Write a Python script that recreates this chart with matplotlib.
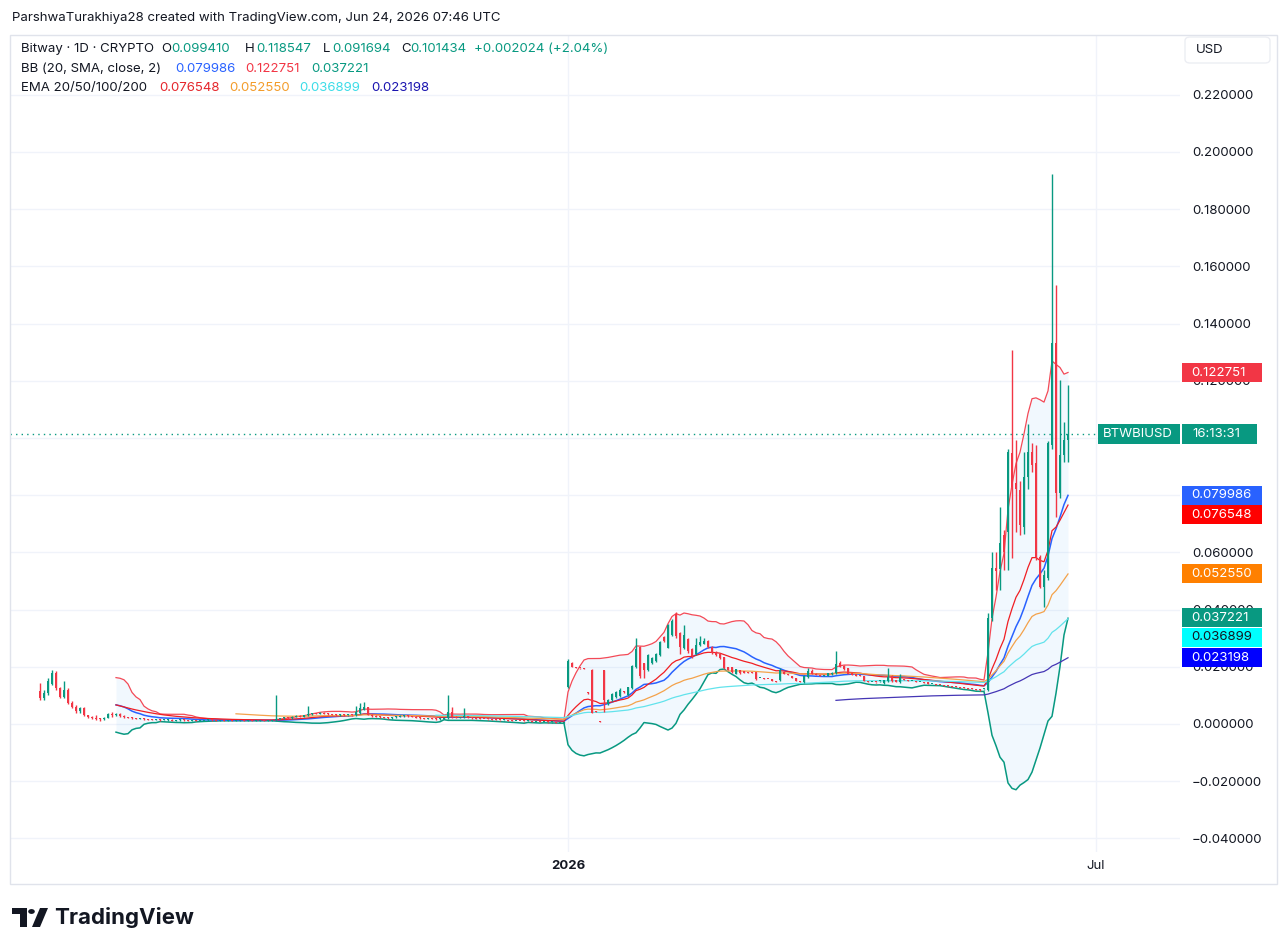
import numpy as np
import pandas as pd
import matplotlib
matplotlib.use("Agg")
import matplotlib.pyplot as plt
from matplotlib.patches import Rectangle, Polygon, Circle, FancyBboxPatch
from matplotlib.transforms import blended_transform_factory

plt.rcParams["font.family"] = ["Inter", "DejaVu Sans"]

W, H = 1288, 952
FS = 9.5

# Bitway (BTWBIUSD) daily candles, one entry per bar (bar index = x position)
opens = [
    # first pump and fade
    .0115, .0090, .0110, .0140, .0180, .0125, .0095, .0120, .0075, .0060, .0045,
    .0055, .0030, .0025, .0020, .0018, .0016, .0022, .0035, .0030, .0036,
    .0028, .0024, .0022, .0020, .0018, .0019, .0016, .0015, .0014, .0015,
    # flat base
    .0013, .0013, .0014, .0012, .0013, .0014, .0013, .0012, .0013, .0012,
    .0012, .0013, .0014, .0013, .0012, .0013, .0012, .0013, .0012, .0012,
    .0013, .0012, .0013, .0012, .0012, .0013, .0012, .0012,
    .0013,
    .0018, .0020, .0022, .0021, .0025, .0028, .0026, .0030, .0034, .0038, .0036,
    .0040, .0036, .0034, .0033, .0030, .0032, .0030, .0031,
    .0030, .0040, .0050, .0058, .0032,
    .0028, .0026, .0024, .0022, .0020, .0023, .0025, .0028, .0030, .0027,
    .0025, .0022, .0020, .0018, .0020, .0019, .0017,
    .0018, .0022, .0042, .0025, .0022, .0024,
    .0028, .0022, .0020, .0019, .0018, .0017, .0016, .0015, .0014, .0013,
    .0013, .0012, .0011, .0011, .0010, .0009, .0009, .0008, .0008, .0007,
    .0007, .0006, .0006, .0005, .0005,
    # 2026
    .0130, .0215, .0198, .0196, .0195, .0110, .0189, .0044, .0008, .0189,
    .0070, .0084, .0095, .0098, .0113, .0101, .0126, .0199, .0269, .0213,
    .0189, .0213, .0220, .0241, .0304, .0266, .0311, .0385, .0318, .0266,
    .0297, .0262, .0245, .0276, .0280, .0290, .0269, .0252, .0245, .0234,
    .0200, .0199, .0175, .0189, .0185, .0182, .0181, .0182, .0161, .0159,
    .0158, .0157, .0150, .0154, .0182, .0175, .0168, .0161, .0150, .0147,
    .0164, .0185, .0175, .0171, .0168, .0168, .0175, .0178, .0213, .0203,
    .0196, .0178, .0175, .0171, .0168, .0148, .0147, .0147, .0149, .0143,
    .0150, .0168, .0154, .0147, .0157, .0154, .0150, .0148, .0147, .0145,
    .0147, .0140, .0139, .0137, .0135, .0133, .0132, .0131, .0129, .0127,
    .0126, .0124, .0122, .0120, .0121,
    # breakout
    .0120, .0371, .0545, .0542, .0661, .0670, .0948, .0843, .0818, .0689,
    .0864, .0951, .0913, .0584, .0479, .0510, .0976, .1332, .0808, .0941,
    .09941,
]
highs = [
    .0145, .0120, .0160, .0190, .0185, .0130, .0150, .0125, .0080, .0065, .0060,
    .0058, .0033, .0028, .0030, .0022, .0025, .0040, .0042, .0040, .0038,
    .0030, .0026, .0024, .0022, .0021, .0020, .0018, .0017, .0016, .0016,
    .0015, .0016, .0016, .0015, .0016, .0016, .0015, .0015, .0015, .0014,
    .0015, .0016, .0016, .0015, .0015, .0015, .0015, .0015, .0014, .0015,
    .0015, .0015, .0015, .0014, .0015, .0015, .0014, .0015,
    .0100,
    .0022, .0024, .0024, .0027, .0030, .0030, .0032, .0063, .0040, .0040, .0042,
    .0042, .0038, .0036, .0035, .0034, .0034, .0033, .0033,
    .0062, .0073, .0077, .0060, .0034,
    .0030, .0028, .0026, .0024, .0025, .0027, .0030, .0032, .0032, .0029,
    .0027, .0024, .0022, .0022, .0022, .0021, .0020,
    .0024, .0101, .0060, .0027, .0026, .0055,
    .0029, .0023, .0021, .0020, .0019, .0018, .0017, .0016, .0015, .0014,
    .0014, .0013, .0012, .0012, .0011, .0010, .0010, .0009, .0009, .0008,
    .0008, .0007, .0007, .0006, .0006,
    .0228, .0218, .0199, .0197, .0196, .0111, .0191, .0046, .0009, .0190,
    .0088, .0108, .0115, .0125, .0114, .0131, .0206, .0301, .0272, .0215,
    .0245, .0233, .0248, .0290, .0306, .0350, .0368, .0392, .0320, .0346,
    .0300, .0265, .0301, .0308, .0300, .0294, .0272, .0255, .0248, .0236,
    .0201, .0200, .0194, .0190, .0186, .0183, .0182, .0183, .0162, .0160,
    .0159, .0158, .0152, .0196, .0184, .0176, .0169, .0162, .0152, .0170,
    .0196, .0192, .0177, .0172, .0172, .0179, .0182, .0255, .0220, .0205,
    .0197, .0179, .0176, .0172, .0169, .0149, .0148, .0148, .0151, .0155,
    .0196, .0170, .0155, .0175, .0158, .0155, .0151, .0149, .0148, .0146,
    .0148, .0141, .0140, .0138, .0136, .0134, .0133, .0132, .0130, .0128,
    .0127, .0125, .0123, .0121, .0123,
    .0388, .0600, .0601, .0759, .0680, .0960, .1308, .0993, .0850, .0951,
    .1049, .0983, .0976, .0590, .0540, .0990, .1923, .1535, .1203, .1056,
    .118547,
]
lows = [
    .0085, .0085, .0100, .0135, .0120, .0090, .0090, .0070, .0055, .0040, .0040,
    .0028, .0022, .0018, .0015, .0012, .0014, .0020, .0025, .0028, .0026,
    .0022, .0020, .0018, .0017, .0016, .0015, .0014, .0013, .0013, .0012,
    .0011, .0011, .0010, .0010, .0011, .0011, .0010, .0010, .0010, .0010,
    .0010, .0011, .0011, .0010, .0010, .0010, .0010, .0010, .0010, .0010,
    .0010, .0010, .0010, .0010, .0010, .0010, .0010, .0010,
    .0012,
    .0016, .0018, .0019, .0019, .0023, .0024, .0024, .0028, .0032, .0034, .0034,
    .0034, .0032, .0031, .0028, .0028, .0028, .0028, .0028,
    .0028, .0035, .0048, .0030, .0025,
    .0024, .0022, .0020, .0018, .0018, .0021, .0023, .0026, .0025, .0023,
    .0020, .0018, .0016, .0016, .0017, .0015, .0015,
    .0016, .0018, .0020, .0020, .0020, .0021,
    .0020, .0019, .0018, .0017, .0016, .0015, .0014, .0013, .0012, .0012,
    .0011, .0010, .0010, .0009, .0008, .0008, .0007, .0007, .0006, .0006,
    .0005, .0005, .0004, .0004, .0004,
    .0125, .0198, .0195, .0194, .0193, .0106, .0038, .0041, .0006, .0042,
    .0068, .0080, .0092, .0096, .0110, .0099, .0124, .0196, .0160, .0161,
    .0186, .0211, .0218, .0238, .0285, .0264, .0308, .0300, .0245, .0262,
    .0250, .0232, .0242, .0272, .0278, .0265, .0245, .0238, .0228, .0194,
    .0188, .0180, .0174, .0176, .0177, .0179, .0179, .0155, .0160, .0157,
    .0156, .0149, .0146, .0152, .0174, .0170, .0160, .0149, .0146, .0145,
    .0162, .0174, .0170, .0167, .0167, .0167, .0173, .0176, .0198, .0190,
    .0174, .0170, .0167, .0167, .0149, .0146, .0146, .0145, .0148, .0141,
    .0148, .0148, .0146, .0145, .0153, .0149, .0149, .0146, .0146, .0142,
    .0139, .0139, .0137, .0135, .0132, .0131, .0130, .0128, .0126, .0125,
    .0123, .0121, .0119, .0117, .0118,
    .0115, .0360, .0468, .0468, .0538, .0540, .0580, .0671, .0661, .0665,
    .0822, .0880, .0573, .0475, .0409, .0505, .0960, .0724, .0790, .0916,
    .091694,
]
closes = [
    .0090, .0110, .0150, .0180, .0125, .0095, .0120, .0075, .0060, .0045, .0055,
    .0030, .0025, .0020, .0018, .0016, .0022, .0035, .0030, .0036, .0028,
    .0024, .0022, .0020, .0018, .0019, .0016, .0015, .0014, .0015, .0013,
    .0013, .0014, .0012, .0013, .0014, .0013, .0012, .0013, .0012, .0012,
    .0013, .0014, .0013, .0012, .0013, .0012, .0013, .0012, .0012, .0013,
    .0012, .0013, .0012, .0012, .0013, .0012, .0012, .0013,
    .0018,
    .0020, .0022, .0021, .0025, .0028, .0026, .0030, .0034, .0038, .0036, .0040,
    .0036, .0034, .0033, .0030, .0032, .0030, .0031, .0030,
    .0042, .0055, .0058, .0032, .0028,
    .0026, .0024, .0022, .0020, .0023, .0025, .0028, .0030, .0027, .0025,
    .0022, .0020, .0018, .0020, .0019, .0017, .0018,
    .0022, .0042, .0025, .0022, .0024, .0028,
    .0022, .0020, .0019, .0018, .0017, .0016, .0015, .0014, .0013, .0013,
    .0012, .0011, .0011, .0010, .0009, .0009, .0008, .0008, .0007, .0007,
    .0006, .0006, .0005, .0005, .0005,
    .0220, .0200, .0196, .0195, .0194, .0108, .0040, .0042, .0007, .0084,
    .0084, .0105, .0112, .0119, .0112, .0129, .0203, .0262, .0168, .0189,
    .0241, .0231, .0245, .0287, .0290, .0346, .0360, .0308, .0269, .0311,
    .0255, .0238, .0276, .0287, .0290, .0269, .0248, .0241, .0230, .0196,
    .0190, .0182, .0192, .0178, .0178, .0180, .0180, .0157, .0161, .0158,
    .0157, .0150, .0148, .0189, .0175, .0171, .0161, .0150, .0147, .0168,
    .0185, .0175, .0171, .0168, .0171, .0178, .0180, .0210, .0199, .0192,
    .0175, .0171, .0168, .0168, .0150, .0147, .0147, .0146, .0150, .0154,
    .0164, .0150, .0147, .0164, .0154, .0150, .0150, .0147, .0147, .0143,
    .0140, .0140, .0138, .0136, .0133, .0132, .0131, .0129, .0127, .0126,
    .0124, .0122, .0120, .0118, .0122,
    .0371, .0545, .0535, .0633, .0601, .0950, .0829, .0822, .0696, .0864,
    .0951, .0906, .0584, .0479, .0521, .0983, .1332, .0808, .0941, .09941,
    .101434,
]
assert len(opens) == len(highs) == len(lows) == len(closes)

xtick_pos = [132, 264]
xtick_labels = ["2026", "Jul"]
price_ticks = [-0.04, -0.02, 0.0, 0.02, 0.04, 0.06, 0.08, 0.10,
               0.12, 0.14, 0.16, 0.18, 0.20, 0.22]

bb_values = ["0.079986", "0.122751", "0.037221"]
ema_lengths = [20, 50, 100, 200]
ema_values = ["0.076548", "0.052550", "0.036899", "0.023198"]

GREEN = "#089981"
RED = "#F23645"
DARK = "#131722"
BB_COLORS = {"basis": "#2962FF", "upper": "#F23645", "lower": "#089981"}
EMA_LINE = ["#F01E23", "#F4A24A", "#62E3EC", "#4536B5"]
EMA_TEXT = ["#E5262C", "#F39C2B", "#3CDCE8", "#1A14B0"]
EMA_TAG = ["#FF0000", "#FF8000", "#00FFFF", "#0000FF"]


def ema(values, n):
    out = np.full(len(values), np.nan)
    out[n - 1] = np.mean(values[:n])
    a = 2.0 / (n + 1)
    for i in range(n, len(values)):
        out[i] = a * values[i] + (1 - a) * out[i - 1]
    return out


def main():
    close = pd.Series(closes)
    basis = close.rolling(20).mean()
    dev = close.rolling(20).std(ddof=0)
    upper = basis + 2 * dev
    lower = basis - 2 * dev
    c = np.array(closes)
    idx = np.arange(len(c))

    fig = plt.figure(figsize=(W / 100, H / 100), dpi=100)
    fig.patch.set_facecolor("white")
    top_px, bottom_px, left_px, right_px = 36, 852, 10, 1180
    ax = fig.add_axes([left_px / W, 1 - bottom_px / H,
                       (right_px - left_px) / W, (bottom_px - top_px) / H])
    ax.set_xlim(-7.5, 285)
    ax.set_ylim((724 - bottom_px) / 2860, (724 - top_px) / 2860)
    for s in ax.spines.values():
        s.set_visible(False)

    # grid and axis labels (the 0.10 label sits fully under the symbol tag)
    ax.set_yticks(price_ticks)
    ylabels = [f"{v:.6f}".replace("-", "\u2212") for v in price_ticks]
    ylabels[price_ticks.index(0.10)] = ""
    ax.set_yticklabels(ylabels)
    ax.set_xticks(xtick_pos)
    ax.set_xticklabels(xtick_labels)
    ax.get_xticklabels()[0].set_fontweight("bold")
    ax.yaxis.tick_right()
    ax.tick_params(axis="y", length=0, pad=8.5, labelsize=FS, labelcolor=DARK)
    ax.tick_params(axis="x", length=0, pad=6, labelsize=FS, labelcolor=DARK)
    ax.grid(True, color="#f0f3fa", lw=1)
    ax.set_axisbelow(True)

    # bollinger fill and lines
    ax.fill_between(idx, lower, upper, color="#2196F3", alpha=0.06, lw=0)
    ax.plot(idx, upper, color=BB_COLORS["upper"], lw=0.9, alpha=0.9)
    ax.plot(idx, lower, color=BB_COLORS["lower"], lw=1.1)
    ax.plot(idx, basis, color=BB_COLORS["basis"], lw=1.1)

    # EMAs
    for n, col in zip(ema_lengths, EMA_LINE):
        ax.plot(idx, ema(c, n), color=col, lw=0.9)

    # candles
    o = np.array(opens)
    h = np.array(highs)
    l = np.array(lows)
    up = c >= o
    cols = np.where(up, GREEN, RED)
    ax.vlines(idx, l, h, colors=cols, lw=1, zorder=4)
    body_lo = np.minimum(o, c)
    body_h = np.maximum(np.abs(c - o), 0.00035)
    ax.bar(idx, body_h, bottom=body_lo, width=0.72, color=cols, lw=0, zorder=5)

    # last price line
    ax.axhline(c[-1], xmin=0, xmax=(1098 - left_px) / (right_px - left_px),
               color=GREEN, lw=1, ls=(0, (1, 3)), zorder=3)

    # price tags on the axis, pushed apart like TradingView does
    tr = blended_transform_factory(ax.transAxes, ax.transData)
    span = right_px - left_px
    box_h = 19 / 2860
    tags = [(float(bb_values[1]), bb_values[1], BB_COLORS["upper"], "white"),
            (float(bb_values[0]), bb_values[0], BB_COLORS["basis"], "white"),
            (float(ema_values[0]), ema_values[0], EMA_TAG[0], "white"),
            (float(ema_values[1]), ema_values[1], EMA_TAG[1], "white"),
            (float(bb_values[2]), bb_values[2], BB_COLORS["lower"], "white"),
            (float(ema_values[2]), ema_values[2], EMA_TAG[2], DARK),
            (float(ema_values[3]), ema_values[3], EMA_TAG[3], "white")]
    prev = None
    for val, txt, bg, fg in tags:
        pos = val if prev is None else min(val, prev - box_h * 1.03)
        prev = pos
        ax.add_patch(Rectangle(((1182 - left_px) / span, pos - box_h / 2), 80 / span, box_h,
                               transform=tr, clip_on=False, facecolor=bg, lw=0, zorder=10))
        ax.text((1191 - left_px) / span, pos, txt, transform=tr, color=fg, fontsize=FS,
                va="center", ha="left", zorder=11, clip_on=False)

    # symbol tag with countdown
    sym_h = 20 / 2860
    ax.add_patch(Rectangle(((1098 - left_px) / span, c[-1] - sym_h / 2), 82 / span, sym_h,
                           transform=tr, clip_on=False, facecolor=GREEN, lw=0, zorder=10))
    ax.add_patch(Rectangle(((1182 - left_px) / span, c[-1] - sym_h / 2), 75 / span, sym_h,
                           transform=tr, clip_on=False, facecolor=GREEN, lw=0, zorder=10))
    ax.text((1103 - left_px) / span, c[-1], "BTWBIUSD", transform=tr, color="white",
            fontsize=FS, va="center", ha="left", zorder=11, clip_on=False)
    ax.text((1192 - left_px) / span, c[-1], "16:13:31", transform=tr, color="white",
            fontsize=FS, va="center", ha="left", zorder=11, clip_on=False)

    # outer frame and currency box
    fig.add_artist(Rectangle((10 / W, 1 - 884 / H), 1267 / W, 849 / H, transform=fig.transFigure,
                             fill=False, edgecolor="#e0e3eb", lw=1))
    fig.add_artist(FancyBboxPatch((1185 / W, 1 - 63 / H), 85 / W, 26 / H,
                                  boxstyle="round,pad=0,rounding_size=0.004",
                                  transform=fig.transFigure, facecolor="white",
                                  edgecolor="#eceef3", lw=1, zorder=12))
    fig.text(1196 / W, 1 - 50 / H, "USD", fontsize=FS, color=DARK, va="center", zorder=13)

    # header + legend
    fig.text(12 / W, 1 - 18 / H,
             "ParshwaTurakhiya28 created with TradingView.com, Jun 24, 2026 07:46 UTC",
             fontsize=FS, color=DARK, va="center")
    change = c[-1] - c[-2]
    pct = change / c[-2] * 100
    rows = [
        (49, [("Bitway \u00b7 1D \u00b7 CRYPTO", 21, DARK, 0), ("O", 161, DARK, 6),
              (f"{opens[-1]:.6f}", 168, GREEN, 0), ("H", 245, DARK, 6),
              (f"{highs[-1]:.6f}", 256, GREEN, 0), ("L", 323, DARK, 6),
              (f"{lows[-1]:.6f}", 332, GREEN, 0), ("C", 401, DARK, 6),
              (f"{closes[-1]:.6f}", 409, GREEN, 0),
              (f"{change:+.6f} ({pct:+.2f}%)", 474, GREEN, 6)]),
        (69, [("BB (20, SMA, close, 2)", 21, DARK, 0),
              (bb_values[0], 175, BB_COLORS["basis"], 6),
              (bb_values[1], 245, BB_COLORS["upper"], 6),
              (bb_values[2], 311, BB_COLORS["lower"], 6)]),
        (88, [("EMA 20/50/100/200", 21, DARK, 0),
              (ema_values[0], 159, EMA_TEXT[0], 6), (ema_values[1], 229, EMA_TEXT[1], 6),
              (ema_values[2], 299, EMA_TEXT[2], 6), (ema_values[3], 371, EMA_TEXT[3], 6)]),
    ]
    renderer = fig.canvas.get_renderer()
    for y, runs in rows:
        end = 0
        for txt, x, col, gap in runs:
            x = max(x, end + gap)
            t = fig.text(x / W, 1 - y / H, txt, fontsize=FS, color=col, va="center", ha="left")
            end = x + t.get_window_extent(renderer).width

    # TradingView logo
    def px(x, y):
        return (x / W, 1 - y / H)
    fig.add_artist(Polygon([px(12, 908), px(27, 908), px(27, 927), px(20, 927), px(20, 914), px(12, 914)],
                           closed=True, transform=fig.transFigure, facecolor=DARK, lw=0))
    fig.add_artist(Circle(px(31.5, 911.5), 3.3 / W, transform=fig.transFigure, facecolor=DARK, lw=0))
    fig.add_artist(Polygon([px(40, 908), px(48, 908), px(40, 927), px(32, 927)],
                           closed=True, transform=fig.transFigure, facecolor=DARK, lw=0))
    fig.text(54 / W, 1 - 917 / H, "TradingView", fontsize=16, fontweight="bold",
             color=DARK, va="center", ha="left")

    fig.savefig("out.png", dpi=100, facecolor="white")
    plt.close(fig)


if __name__ == "__main__":
    main()
